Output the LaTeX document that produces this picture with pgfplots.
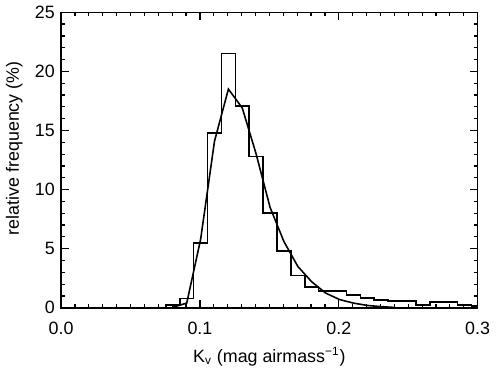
\documentclass[border=0pt]{standalone}
\usepackage{fontspec}
\setmainfont{Liberation Sans}
\usepackage{pgfplots}
\usepackage{pgfplotstable}
\pgfplotsset{compat=1.18}

% histogram: left bin edge, relative frequency (%)
\pgfplotstableread{
x y
0.0755 0
0.0755 0.25
0.0855 0.8
0.0955 5.5
0.1055 14.8
0.1155 21.5
0.1255 17.05
0.1355 12.8
0.1455 8.0
0.1555 4.8
0.1655 2.75
0.1755 1.75
0.1855 1.4
0.1955 1.4
0.2055 1.07
0.2155 0.81
0.2255 0.65
0.2355 0.56
0.2455 0.56
0.2555 0.23
0.2655 0.48
0.2755 0.48
0.2855 0.23
0.2955 0.15
0.3000 0.15
}\histdata

% fitted curve at bin centres
\pgfplotstableread{
x y
0.0805 0.05
0.0905 0.4
0.1005 5.8
0.1105 14.1
0.1205 18.5
0.1305 16.9
0.1405 13.0
0.1505 8.5
0.1605 5.6
0.1705 3.5
0.1805 2.2
0.1905 1.25
0.2005 0.7
0.2105 0.4
0.2205 0.2
0.2305 0.1
0.2405 0.03
}\fitdata

\begin{document}
\fontsize{9pt}{11pt}\selectfont
\begin{tikzpicture}
\begin{axis}[
    width=210pt, height=149pt,
    scale only axis,
    xmin=0, xmax=0.3,
    ymin=0, ymax=25,
    xtick distance=0.1,
    ytick distance=5,
    minor x tick num=9,
    minor y tick num=4,
    xtick pos=both, ytick pos=both,
    xticklabel pos=bottom, yticklabel pos=left,
    tick align=inside,
    major tick length=4pt,
    minor tick length=2pt,
    every tick/.style={black, line width=0.6pt},
    axis line style={line width=0.75pt},
    /pgf/number format/assume math mode=true,
    xticklabel style={yshift=-4pt, /pgf/number format/fixed, /pgf/number format/fixed zerofill, /pgf/number format/precision=1},
    scaled x ticks=false,
    xlabel={K\textsubscript{v} (mag airmass\textsuperscript{−1})},
    ylabel={relative frequency (\%)},
    every axis y label/.append style={at={(ticklabel cs:0.54)}},
    ticklabel style={font=\fontsize{9pt}{11pt}\selectfont},
    label style={font=\fontsize{9pt}{11pt}\selectfont},
]
\addplot[const plot, black, line width=0.8pt] table[x=x, y=y] {\histdata};
\addplot[black, line width=0.8pt] table[x=x, y=y] {\fitdata};
\end{axis}
\end{tikzpicture}
\end{document}
